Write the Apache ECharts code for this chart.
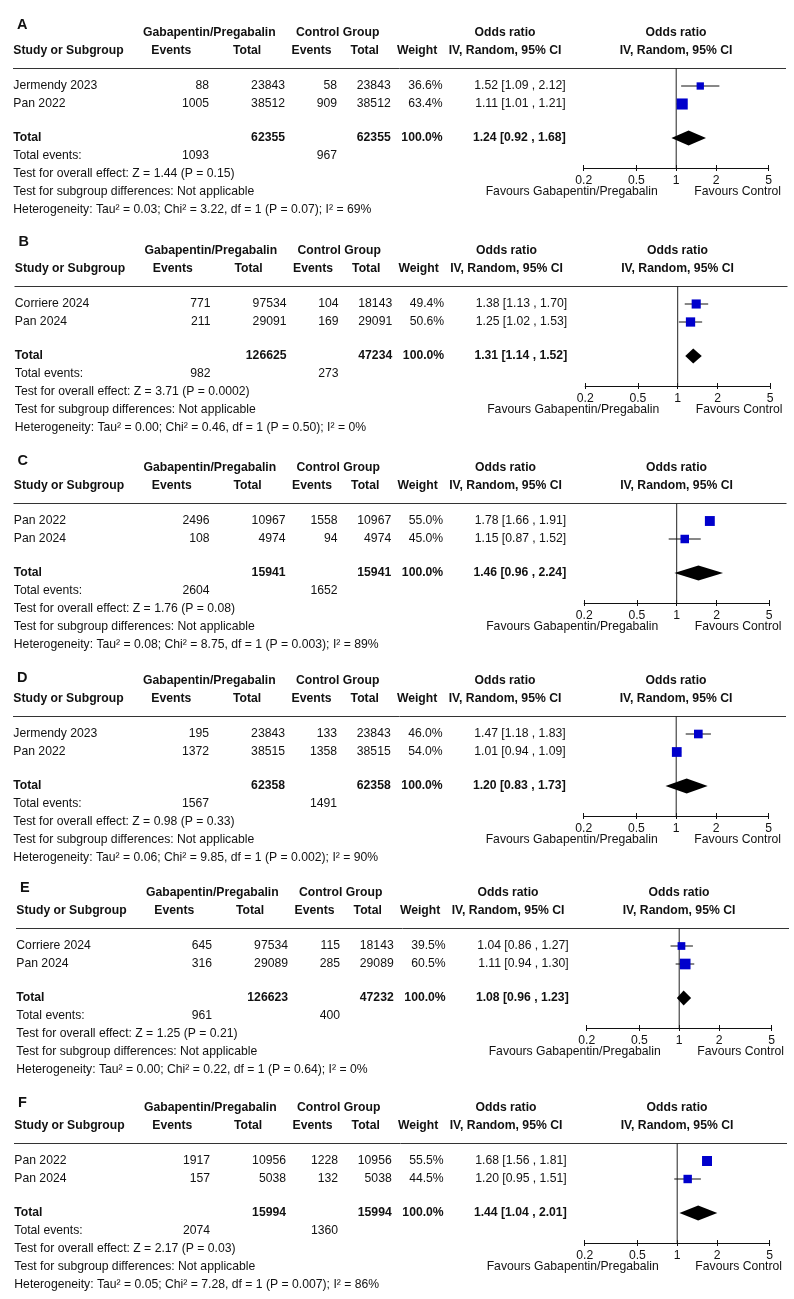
<!DOCTYPE html>
<html><head><meta charset="utf-8">
<script src="https://cdn.jsdelivr.net/npm/echarts@6/dist/echarts.min.js"></script>
<style>html,body{margin:0;padding:0;background:#fff}#c{width:794px;height:1299px}</style>
</head><body><div id="c"></div><script>
// ---------- DATA ----------
const panels = ['A','B','C','D','E','F'];
const studies = [['Jermendy 2023','Pan 2022'],['Corriere 2024','Pan 2024'],['Pan 2022','Pan 2024'],['Jermendy 2023','Pan 2022'],['Corriere 2024','Pan 2024'],['Pan 2022','Pan 2024']];
const expEvents = [[88,1005],[771,211],[2496,108],[195,1372],[645,316],[1917,157]];
const expTotal = [[23843,38512],[97534,29091],[10967,4974],[23843,38515],[97534,29089],[10956,5038]];
const ctlEvents = [[58,909],[104,169],[1558,94],[133,1358],[115,285],[1228,132]];
const ctlTotal = [[23843,38512],[18143,29091],[10967,4974],[23843,38515],[18143,29089],[10956,5038]];
const weights = [[36.6,63.4],[49.4,50.6],[55.0,45.0],[46.0,54.0],[39.5,60.5],[55.5,44.5]];
const orEst = [[1.52,1.11],[1.38,1.25],[1.78,1.15],[1.47,1.01],[1.04,1.11],[1.68,1.20]];
const orLo = [[1.09,1.01],[1.13,1.02],[1.66,0.87],[1.18,0.94],[0.86,0.94],[1.56,0.95]];
const orHi = [[2.12,1.21],[1.70,1.53],[1.91,1.52],[1.83,1.09],[1.27,1.30],[1.81,1.51]];
const totExp = [62355,126625,15941,62358,126623,15994];
const totCtl = [62355,47234,15941,62358,47232,15994];
const totExpEvents = [1093,982,2604,1567,961,2074];
const totCtlEvents = [967,273,1652,1491,400,1360];
const pooledOR = [1.24,1.31,1.46,1.20,1.08,1.44];
const pooledLo = [0.92,1.14,0.96,0.83,0.96,1.04];
const pooledHi = [1.68,1.52,2.24,1.73,1.23,2.01];
const overallEffect = ['Z = 1.44 (P = 0.15)','Z = 3.71 (P = 0.0002)','Z = 1.76 (P = 0.08)','Z = 0.98 (P = 0.33)','Z = 1.25 (P = 0.21)','Z = 2.17 (P = 0.03)'];
const heterogeneity = [
  'Tau\u00b2 = 0.03; Chi\u00b2 = 3.22, df = 1 (P = 0.07); I\u00b2 = 69%',
  'Tau\u00b2 = 0.00; Chi\u00b2 = 0.46, df = 1 (P = 0.50); I\u00b2 = 0%',
  'Tau\u00b2 = 0.08; Chi\u00b2 = 8.75, df = 1 (P = 0.003); I\u00b2 = 89%',
  'Tau\u00b2 = 0.06; Chi\u00b2 = 9.85, df = 1 (P = 0.002); I\u00b2 = 90%',
  'Tau\u00b2 = 0.00; Chi\u00b2 = 0.22, df = 1 (P = 0.64); I\u00b2 = 0%',
  'Tau\u00b2 = 0.05; Chi\u00b2 = 7.28, df = 1 (P = 0.007); I\u00b2 = 86%'];
const tickValues = [0.2, 0.5, 1, 2, 5];
const tickLabels = ['0.2','0.5','1','2','5'];

// ---------- LAYOUT ----------
const FONT = '"Liberation Sans", Arial, Helvetica, sans-serif';
const FS = 12.2;
const TXT = '#111';
const lineY = [68, 286, 503, 716, 928, 1143];
const dxs = [0, 1.5, 0.5, 0, 3, 1];
const letterOff = [-43, -44, -42, -38, -40, -40];
const ROW = 18, AXIS_OFF = 100, YMAX = AXIS_OFF / ROW, TOTAL_ROW = 70 / ROW;

const graphics = [], grids = [], xAxes = [], yAxes = [], series = [];
function txt(x, y, s, align, bold, size) {
  graphics.push({type:'text', x:x, y:y, silent:true, style:{
    text:String(s), fill:TXT, fontFamily:FONT, fontSize:size||FS, fontWeight:bold?'bold':'normal',
    textAlign:align||'left', align:align||'left', textVerticalAlign:'middle', verticalAlign:'middle'}});
}
const fmtOR = (e,l,h) => e.toFixed(2)+' ['+l.toFixed(2)+' , '+h.toFixed(2)+']';
function labelFor(v){ for (let k=0;k<tickValues.length;k++){ if (Math.abs(tickValues[k]-v)/tickValues[k] < 1e-6) return tickLabels[k]; } return ''; }

function renderForest(params, api) {
  const y = api.value(5);
  const c = api.coord([api.value(0), y]);
  const l = api.coord([api.value(1), y]);
  const h = api.coord([api.value(2), y]);
  if (api.value(4) === 1) {
    return {type:'polygon', shape:{points:[[l[0],c[1]],[c[0],c[1]-7.5],[h[0],c[1]],[c[0],c[1]+7.5]]}, style:{fill:'#000'}};
  }
  const s = 0.14 * api.value(3) + 2.2;
  return {type:'group', children:[
    {type:'line', shape:{x1:l[0], y1:c[1], x2:h[0], y2:c[1]}, style:{stroke:'#111', lineWidth:1}},
    {type:'rect', shape:{x:c[0]-s/2, y:c[1]-s/2, width:s, height:s}, style:{fill:'#0000CC'}}
  ]};
}

panels.forEach((name, p) => {
  const L = lineY[p], dx = dxs[p];
  txt(17+dx, L+letterOff[p], name, 'left', true, 14.5);
  txt(209.3+dx, L-35, 'Gabapentin/Pregabalin', 'center', true);
  txt(337.7+dx, L-35, 'Control Group', 'center', true);
  txt(505+dx, L-35, 'Odds ratio', 'center', true);
  txt(676+dx, L-35, 'Odds ratio', 'center', true);
  txt(13.3+dx, L-17, 'Study or Subgroup', 'left', true);
  txt(171.3+dx, L-17, 'Events', 'center', true);
  txt(247+dx, L-17, 'Total', 'center', true);
  txt(311.5+dx, L-17, 'Events', 'center', true);
  txt(364.7+dx, L-17, 'Total', 'center', true);
  txt(437.3+dx, L-17, 'Weight', 'right', true);
  txt(505+dx, L-17, 'IV, Random, 95% CI', 'center', true);
  txt(676+dx, L-17, 'IV, Random, 95% CI', 'center', true);
  graphics.push({type:'line', silent:true, shape:{x1:13+dx, y1:L+0.5, x2:786+dx, y2:L+0.5}, style:{stroke:'#333', lineWidth:1}});

  const rows = [];
  studies[p].forEach((st, i) => {
    const y = L + ROW*(i+1);
    txt(13.3+dx, y, st, 'left');
    txt(209+dx, y, expEvents[p][i], 'right');
    txt(285+dx, y, expTotal[p][i], 'right');
    txt(337+dx, y, ctlEvents[p][i], 'right');
    txt(390.7+dx, y, ctlTotal[p][i], 'right');
    txt(442.7+dx, y, weights[p][i].toFixed(1)+'%', 'right');
    txt(565.7+dx, y, fmtOR(orEst[p][i], orLo[p][i], orHi[p][i]), 'right');
    rows.push([orEst[p][i], orLo[p][i], orHi[p][i], weights[p][i], 0, i+1]);
  });
  rows.push([pooledOR[p], pooledLo[p], pooledHi[p], 100, 1, TOTAL_ROW]);
  const yt = L + 70;
  txt(13.3+dx, yt, 'Total', 'left', true);
  txt(285+dx, yt, totExp[p], 'right', true);
  txt(390.7+dx, yt, totCtl[p], 'right', true);
  txt(442.7+dx, yt, '100.0%', 'right', true);
  txt(565.7+dx, yt, fmtOR(pooledOR[p], pooledLo[p], pooledHi[p]), 'right', true);
  txt(13.3+dx, L+88, 'Total events:', 'left');
  txt(209+dx, L+88, totExpEvents[p], 'right');
  txt(337+dx, L+88, totCtlEvents[p], 'right');
  txt(13.3+dx, L+106, 'Test for overall effect: ' + overallEffect[p], 'left');
  txt(13.3+dx, L+124, 'Test for subgroup differences: Not applicable', 'left');
  txt(13.3+dx, L+141.5, 'Heterogeneity: ' + heterogeneity[p], 'left');
  txt(571.7+dx, L+124, 'Favours Gabapentin/Pregabalin', 'center');
  txt(737.7+dx, L+124, 'Favours Control', 'center');

  grids.push({left:583.7+dx, top:L, width:185, height:AXIS_OFF, containLabel:false, outerBoundsMode:'none'});
  const base = {gridIndex:p, type:'log', logBase:10, min:0.2, max:5, position:'bottom', offset:0, splitLine:{show:false}, minorTick:{show:false}};
  xAxes.push(Object.assign({}, base, {
    axisLine:{show:true, onZero:false, lineStyle:{color:'#111', width:1}},
    axisTick:{show:true, inside:false, length:3, customValues:tickValues, lineStyle:{color:'#111', width:1}},
    axisLabel:{show:true, customValues:tickValues, margin:6.5, fontSize:FS, fontFamily:FONT, color:TXT, formatter:labelFor}
  }));
  xAxes.push(Object.assign({}, base, {
    axisLine:{show:false, onZero:false},
    axisTick:{show:true, inside:true, length:3, customValues:tickValues, lineStyle:{color:'#111', width:1}},
    axisLabel:{show:false}
  }));
  yAxes.push({gridIndex:p, type:'value', inverse:true, min:0, max:YMAX, show:false});
  series.push({type:'line', xAxisIndex:2*p, yAxisIndex:p, data:[[1,0],[1,YMAX]], symbol:'none', silent:true, lineStyle:{color:'#222', width:1}, z:1});
  series.push({type:'custom', xAxisIndex:2*p, yAxisIndex:p, data:rows, encode:{x:[0,1,2], y:5}, renderItem:renderForest, silent:true, z:3});
});

const chart = echarts.init(document.getElementById('c'), null, {renderer:'canvas'});
chart.setOption({animation:false, backgroundColor:'#fff', grid:grids, xAxis:xAxes, yAxis:yAxes, series:series, graphic:graphics});
</script></body></html>
